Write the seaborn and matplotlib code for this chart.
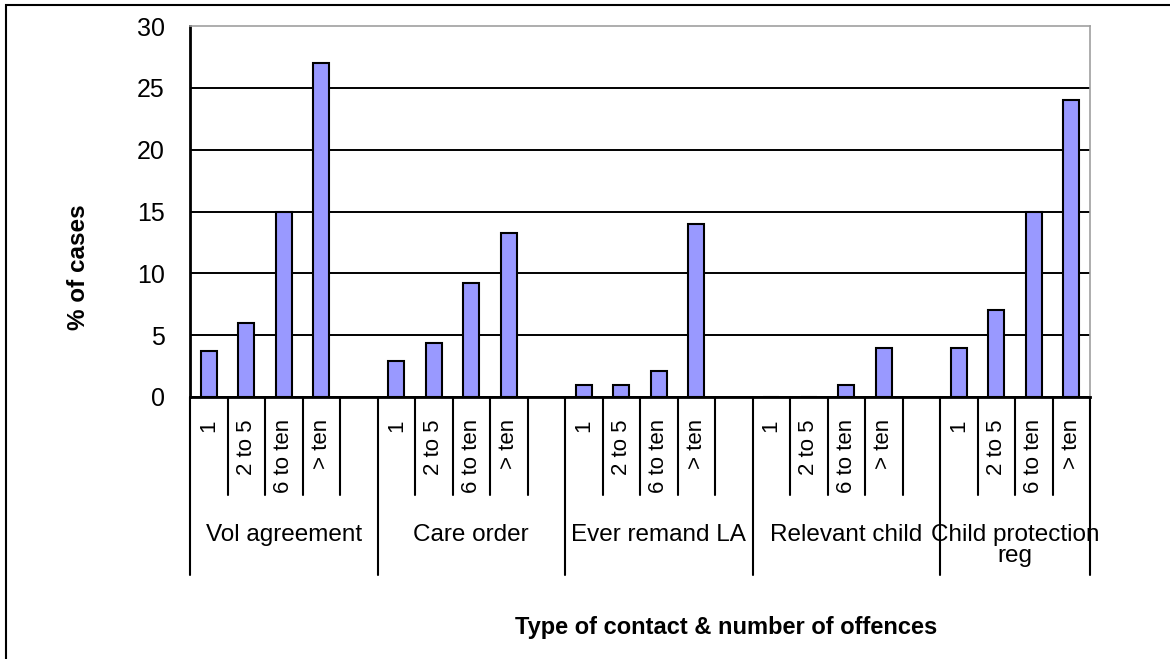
"""
Recreate the Excel-style column chart: % of cases by type of contact
and number of offences.
"""

import pandas as pd
import matplotlib.pyplot as plt
import matplotlib.transforms as mtransforms
from matplotlib.patches import Rectangle
import seaborn as sns

# ---------- data ----------
groups = ["Vol agreement", "Care order", "Ever remand LA",
          "Relevant child", "Child protection\nreg"]
offences = ["1", "2 to 5", "6 to ten", "> ten"]

vol_agreement = [3.7, 6.0, 15.0, 27.0]
care_order = [2.9, 4.4, 9.25, 13.3]
ever_remand_la = [1.0, 1.0, 2.1, 14.0]
relevant_child = [0.0, 0.0, 1.0, 4.0]
child_protection = [4.0, 7.0, 15.0, 24.0]

yticks = [0, 5, 10, 15, 20, 25, 30]

# ---------- build the slot table ----------
# Excel leaves one empty column between groups, so we add a blank slot
series = [vol_agreement, care_order, ever_remand_la, relevant_child, child_protection]
rows, order, tick_text = [], [], []
for g, vals in enumerate(series):
    for off, v in zip(offences, vals):
        key = f"{g}|{off}"
        rows.append({"slot": key, "pct": v})
        order.append(key)
        tick_text.append(off)
    if g < len(series) - 1:
        order.append(f"{g}|gap")
        tick_text.append("")
df = pd.DataFrame(rows)

# ---------- plot ----------
sns.set_style("white")
plt.rcParams["font.family"] = ["Liberation Sans", "DejaVu Sans"]
plt.rcParams.update({"text.color": "black", "axes.labelcolor": "black",
                     "xtick.color": "black", "ytick.color": "black"})

fig = plt.figure(figsize=(11.7, 6.59), dpi=100)
ax = fig.add_axes([190 / 1170, 1 - 397 / 659, 900 / 1170, 371 / 659])

sns.barplot(data=df, x="slot", y="pct", order=order, ax=ax,
            color="#9999ff", saturation=1, width=0.43,
            edgecolor="black", linewidth=1.5)

ax.set_ylim(0, 30)
ax.set_xlim(-0.5, len(order) - 0.5)
ax.set_yticks(yticks)
ax.tick_params(axis="y", direction="out", length=6, width=1.5,
               pad=12, labelsize=18)
ax.set_xticks(range(len(order)))
ax.set_xticklabels(tick_text, rotation=90, fontsize=16)
ax.tick_params(axis="x", length=0, pad=16)

ax.set_axisbelow(True)
ax.yaxis.grid(True, color="black", linewidth=1.4)
ax.get_ygridlines()[-1].set_visible(False)

for side in ["left", "bottom"]:
    ax.spines[side].set_color("black")
    ax.spines[side].set_linewidth(2)
for side in ["top", "right"]:
    ax.spines[side].set_color("#a0a0a0")
    ax.spines[side].set_linewidth(1.2)

# ---------- category table under the axis ----------
trans = mtransforms.blended_transform_factory(ax.transData, ax.transAxes)
starts = [i for i, k in enumerate(order) if k.endswith("|1")]
ends = starts[1:] + [len(order)]

for i in range(len(order) + 1):
    long_line = i in starts or i == len(order)
    ax.plot([i - 0.5, i - 0.5], [0, -0.48 if long_line else -0.265],
            transform=trans, color="black", linewidth=1.5, clip_on=False)

for name, s, e in zip(groups, starts, ends):
    ax.text((s + e) / 2 - 0.5, -0.342, name, transform=trans,
            ha="center", va="top", fontsize=17.5, linespacing=0.95)

ax.set_xlabel("Type of contact & number of offences", fontsize=17, fontweight="bold")
ax.xaxis.set_label_coords(0.596, -0.59)
ax.xaxis.label.set_va("top")
ax.set_ylabel("% of cases", fontsize=17.5, fontweight="bold")
ax.yaxis.set_label_coords(-0.111, 0.35)

# outer frame of the chart area (only top and left edges are in view)
fig.patches.append(Rectangle((6 / 1170, -0.05), 1.1, 1.05 - 5 / 659,
                             transform=fig.transFigure, fill=False,
                             edgecolor="black", linewidth=1.5))

fig.savefig("out.png", dpi=100)
plt.close(fig)
